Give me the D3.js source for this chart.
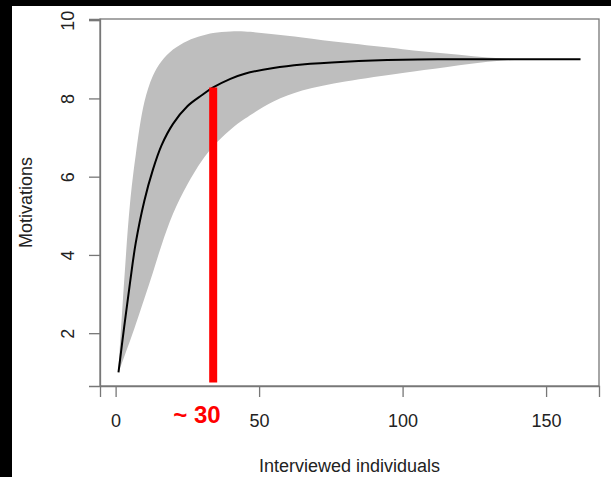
<!DOCTYPE html>
<html>
<head>
<meta charset="utf-8">
<script src="https://cdn.jsdelivr.net/npm/d3@7"></script>
<style>
    html, body { margin: 0; padding: 0; background: #000; }
    svg { display: block; }
</style>
</head>
<body>
<div id="chart"></div>
<script>
// values
const individuals = [1, 3, 5, 7, 10, 13, 16, 20, 25, 30, 34, 40, 45, 55, 65, 80, 100, 115, 135, 162];
const meanMotivation = [1.0, 2.17, 3.28, 4.3, 5.38, 6.18, 6.8, 7.35, 7.8, 8.08, 8.28, 8.5, 8.63, 8.78, 8.87, 8.94, 8.99, 9.0, 9.0, 9.0];
const upperMotivation = [1.0, 3.35, 5.3, 6.55, 7.9, 8.58, 8.95, 9.25, 9.47, 9.6, 9.67, 9.71, 9.71, 9.64, 9.56, 9.42, 9.26, 9.15, 9.02, 9.0];
const lowerMotivation = [1.0, 1.4, 1.8, 2.22, 2.88, 3.55, 4.25, 5.05, 5.8, 6.4, 6.78, 7.2, 7.48, 7.92, 8.2, 8.43, 8.65, 8.8, 8.97, 9.0];
const xTicks = [0, 50, 100, 150];
const yTicks = [2, 4, 6, 8, 10];
const markX = 34;
const markBottom = 0.74;
const markLabel = '~ 30';

const rows = individuals.map((x, i) => ({
    x,
    mean: meanMotivation[i],
    lo: lowerMotivation[i],
    hi: upperMotivation[i]
}));

const svgWidth = 611;
const svgHeight = 477;
const margin = { top: 19, right: 12, bottom: 91, left: 100 };
const width = svgWidth - margin.left - margin.right;
const height = svgHeight - margin.top - margin.bottom;

const svg = d3.select('#chart')
    .append('svg')
    .attr('width', svgWidth)
    .attr('height', svgHeight)
    .style('font-family', '"Liberation Sans", Arial, sans-serif');

// black frame around the screenshot
svg.append('rect')
    .attr('width', svgWidth)
    .attr('height', svgHeight)
    .attr('fill', '#000');
svg.append('rect')
    .attr('x', 12)
    .attr('y', 6)
    .attr('width', svgWidth - 12)
    .attr('height', svgHeight - 6)
    .attr('fill', '#fff');

const bounds = svg.append('g')
    .attr('transform', `translate(${margin.left}, ${margin.top})`);

const xScale = d3.scaleLinear()
    .domain([-5.44, 168.44])
    .range([0, width]);

const yScale = d3.scaleLinear()
    .domain([0.65, 10.03])
    .range([height, 0]);

const curve = d3.curveCatmullRom.alpha(0.5);

const areaGenerator = d3.area()
    .x(d => xScale(d.x))
    .y0(d => yScale(d.lo))
    .y1(d => yScale(d.hi))
    .curve(curve);

const lineGenerator = d3.line()
    .x(d => xScale(d.x))
    .y(d => yScale(d.mean))
    .curve(curve);

bounds.append('path')
    .attr('d', areaGenerator(rows))
    .style('fill', '#bebebe')
    .style('stroke', 'none');

bounds.append('path')
    .attr('d', lineGenerator(rows))
    .style('fill', 'none')
    .style('stroke', '#000')
    .style('stroke-width', 2);

// red marker
const markTop = meanMotivation[individuals.indexOf(markX)];
bounds.append('line')
    .attr('x1', xScale(markX))
    .attr('x2', xScale(markX))
    .attr('y1', yScale(markTop))
    .attr('y2', yScale(markBottom))
    .style('stroke', '#ff0000')
    .style('stroke-width', 8);

// box
bounds.append('rect')
    .attr('width', width)
    .attr('height', height)
    .style('fill', 'none')
    .style('stroke', '#777')
    .style('stroke-width', 1.3);

const xAxisGroup = bounds.append('g')
    .attr('transform', `translate(0, ${height})`)
    .call(d3.axisBottom(xScale)
        .tickValues(xTicks)
        .tickSize(11)
        .tickPadding(17)
        .tickFormat(d => d));

const yAxisGroup = bounds.append('g')
    .call(d3.axisLeft(yScale)
        .tickValues(yTicks)
        .tickSize(11)
        .tickFormat(d => d));

[xAxisGroup, yAxisGroup].forEach(g => {
    g.selectAll('path, line')
        .style('stroke', '#777')
        .style('stroke-width', 1.3);
    g.selectAll('text')
        .style('font-size', '18px')
        .style('font-family', '"Liberation Sans", Arial, sans-serif')
        .style('fill', '#222');
});

yAxisGroup.selectAll('.tick text')
    .attr('x', null)
    .attr('dy', null)
    .attr('text-anchor', 'middle')
    .attr('transform', 'translate(-32, 0) rotate(-90) translate(0, 6.3)');

svg.append('text')
    .attr('x', margin.left + width / 2)
    .attr('y', 472)
    .attr('text-anchor', 'middle')
    .style('font-size', '18px')
    .style('fill', '#222')
    .text('Interviewed individuals');

svg.append('text')
    .attr('transform', `translate(32, ${margin.top + height / 2}) rotate(-90)`)
    .attr('text-anchor', 'middle')
    .style('font-size', '18px')
    .style('fill', '#222')
    .text('Motivations');

svg.append('text')
    .attr('x', 197)
    .attr('y', 423)
    .attr('text-anchor', 'middle')
    .style('font-size', '24px')
    .style('font-weight', 'bold')
    .style('fill', '#ff0000')
    .text(markLabel);
</script>
</body>
</html>
